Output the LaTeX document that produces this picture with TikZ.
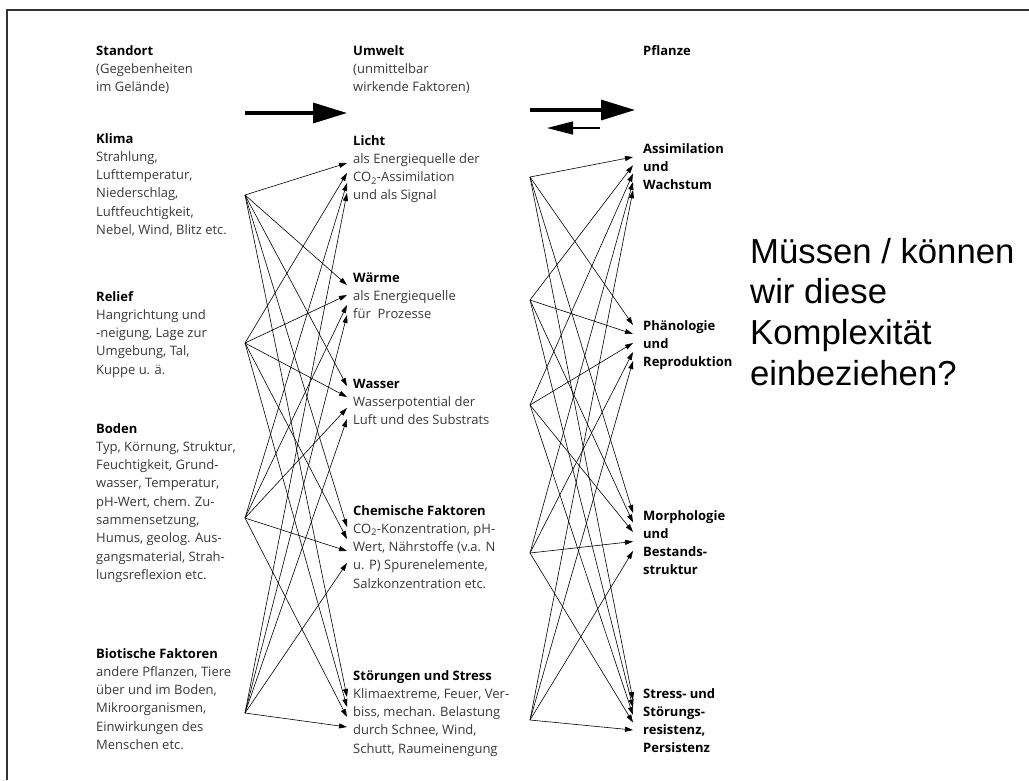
\documentclass[tikz,border=0pt]{standalone}
\usepackage{fontspec}
\setmainfont{Open Sans}
\newfontfamily\slidefont{Liberation Sans}
\usetikzlibrary{arrows.meta}

\newcommand\ttl[1]{{\color{black}\bfseries #1}}

\begin{document}
\begin{tikzpicture}[
  x=1pt, y=-1pt,
  % nodes hang on the baseline of their last line
  txt/.style={anchor=base west, align=left, inner sep=0pt, text=black!78,
    font=\fontsize{13}{18.3}\selectfont},
  hd/.style={txt, text=black, font=\fontsize{13}{18.3}\selectfont\bfseries},
  con/.style={-{Triangle[length=8pt,width=5pt]}, line width=0.6pt},
  fat/.style={line width=3.3pt, -{Triangle[length=34pt,width=20pt]}},
  thin/.style={line width=1.4pt, -{Triangle[length=26pt,width=13pt]}},
]
\useasboundingbox (0,0) rectangle (1029,780);
\draw[black!80, line width=1.3pt] (7,780) -- (7,10) -- (1029,10);

% column heads
\node[txt] (standort) at (96,91.6) {\ttl{Standort}\\(Gegebenheiten\\im Gelände)};
\node[txt] (umwelt) at (353,91.6) {\ttl{Umwelt}\\(unmittelbar\\wirkende Faktoren)};
\node[hd] (pflanze) at (643,55) {Pflanze};

% Standort
\node[txt] (klima) at (96,234.5) {\ttl{Klima}\\Strahlung,\\Lufttemperatur,\\Niederschlag,\\Luftfeuchtigkeit,\\Nebel, Wind, Blitz etc.};
\node[txt] (relief) at (96,374.2) {\ttl{Relief}\\Hangrichtung und\\-neigung, Lage zur\\Umgebung, Tal,\\Kuppe u. ä.};
\node[txt] (boden) at (96,579.4) {\ttl{Boden}\\Typ, Körnung, Struktur,\\Feuchtigkeit, Grund-\\wasser, Temperatur,\\pH-Wert, chem. Zu-\\sammensetzung,\\Humus, geolog. Aus-\\gangsmaterial, Strah-\\lungsreflexion etc.};
\node[txt] (biotik) at (96,749.5) {\ttl{Biotische Faktoren}\\andere Pflanzen, Tiere\\über und im Boden,\\Mikroorganismen,\\Einwirkungen des\\Menschen etc.};

% Umwelt
\node[txt] (licht) at (353,199.9) {\ttl{Licht}\\als Energiequelle der\\CO\textsubscript{2}-Assimilation\\und als Signal};
\node[txt] (waerme) at (353,318.6) {\ttl{Wärme}\\als Energiequelle\\für~ Prozesse};
\node[txt] (wasser) at (353,424.6) {\ttl{Wasser}\\Wasserpotential der\\Luft und des Substrats};
\node[txt] (chemie) at (353,588.2) {\ttl{Chemische Faktoren}\\CO\textsubscript{2}-Konzentration, pH-\\Wert, Nährstoffe (v.a. N\\u. P) Spurenelemente,\\Salzkonzentration etc.};
\node[txt] (stoerung) at (353,753.2) {\ttl{Störungen und Stress}\\Klimaextreme, Feuer, Ver-\\biss, mechan. Belastung\\durch Schnee, Wind,\\Schutt, Raumeinengung};

% Pflanze
\node[hd] (assim) at (643,189.6) {Assimilation\\und\\Wachstum};
\node[hd] (phaeno) at (643,366.6) {Phänologie\\und\\Reproduktion};
\node[hd] (morpho) at (643,574.9) {Morphologie\\und\\Bestands-\\struktur};
\node[hd] (resist) at (643,752.9) {Stress- und\\Störungs-\\resistenz,\\Persistenz};

\node[anchor=base west, align=left, inner sep=0pt,
  font=\fontsize{34.7}{40.7}\slidefont] (frage) at (750,385.1)
  {Müssen / können\\wir diese\\Komplexität\\einbeziehen?};

% big arrows
\coordinate (go1-a) at (245,113);
\coordinate (go1-b) at (347,113);
\coordinate (go2-a) at (530,110);
\coordinate (go2-b) at (635,110);
\coordinate (back-a) at (600,128);
\coordinate (back-b) at (547,128);
\draw[fat] (go1-a) -- (go1-b);
\draw[fat] (go2-a) -- (go2-b);
\draw[thin] (back-a) -- (back-b);

% fan-out points
\coordinate (klima-out) at (245,195);
\coordinate (relief-out) at (245,343);
\coordinate (boden-out) at (245,518);
\coordinate (biotik-out) at (245,713);
\coordinate (licht-in) at (347,163);
\coordinate (waerme-in) at (347,285);
\coordinate (wasser-in) at (347,386);
\coordinate (chemie-in) at (347,527);
\coordinate (stoerung-in) at (347,697);
\coordinate (licht-out) at (530,177);
\coordinate (waerme-out) at (530,300);
\coordinate (wasser-out) at (530,405);
\coordinate (chemie-out) at (530,553);
\coordinate (stoerung-out) at (530,720);
\coordinate (assim-in) at (633,157);
\coordinate (phaeno-in) at (633,325);
\coordinate (morpho-in) at (633,513);
\coordinate (resist-in) at (633,700);

\foreach \s [count=\i from 0] in {klima-out,relief-out,boden-out,biotik-out}
  \foreach \t/\d in {licht-in/10,waerme-in/10,wasser-in/11,chemie-in/12,stoerung-in/10}
    \draw[con] (\s) -- ([yshift={-\i*\d}]\t);

\foreach \s [count=\i from 0] in {licht-out,waerme-out,wasser-out,chemie-out,stoerung-out}
  \foreach \t/\d in {assim-in/8.3,phaeno-in/9,morpho-in/9.5,resist-in/7.5}
    \draw[con] (\s) -- ([yshift={-\i*\d}]\t);
\end{tikzpicture}
\end{document}
